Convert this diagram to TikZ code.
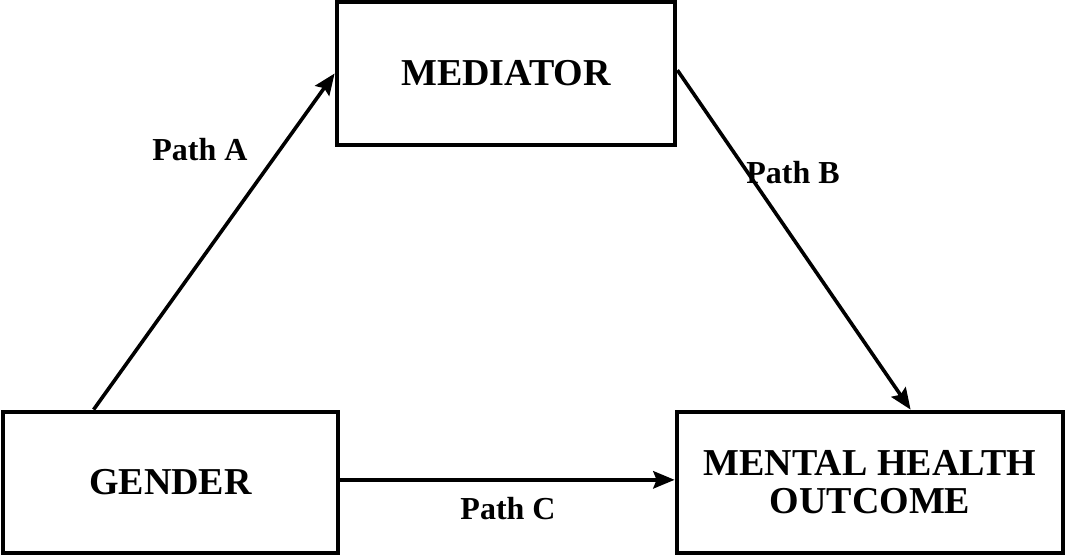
\documentclass[tikz,border=0pt]{standalone}
\usepackage{fontspec}
\setmainfont{Liberation Serif}
\usetikzlibrary{arrows.meta}
\begin{document}
\begin{tikzpicture}[x=0.75pt,y=-0.75pt,
  box/.style={draw=black,line width=3.6pt,fill=white,inner sep=0pt,align=center,
    font=\fontsize{28.5}{28.5}\selectfont\bfseries},
  arr/.style={line width=2.7pt,-{Stealth[length=16pt,width=13pt,inset=2.5pt]}},
  lbl/.style={font=\fontsize{24}{26}\selectfont\bfseries,inner sep=0pt}]
\useasboundingbox[fill=white] (0,0) rectangle (1065,557);
\node[box,minimum width=253.5pt,minimum height=107.25pt] (mediator) at (506,73.5) {MEDIATOR};
\node[box,minimum width=251.25pt,minimum height=105.75pt] (gender) at (170.5,482.5) {GENDER};
\node[box,minimum width=289.5pt,minimum height=105.75pt] (outcome) at (870,482.5) {MENTAL HEALTH\\OUTCOME};
\coordinate (astart) at ([xshift=69.75pt]gender.north west);
\coordinate (bend) at ([xshift=177pt]outcome.north west);
\draw[arr] (astart) -- (mediator.west);
\draw[arr] ([yshift=2.5pt]mediator.east) -- (bend);
\draw[arr] ([yshift=2pt]gender.east) -- ([yshift=2pt]outcome.west);
\node[lbl] (la) at (200,150) {Path A};
\node[lbl] (lb) at (793,173) {Path B};
\node[lbl] (lc) at (508,509) {Path C};
\end{tikzpicture}
\end{document}
